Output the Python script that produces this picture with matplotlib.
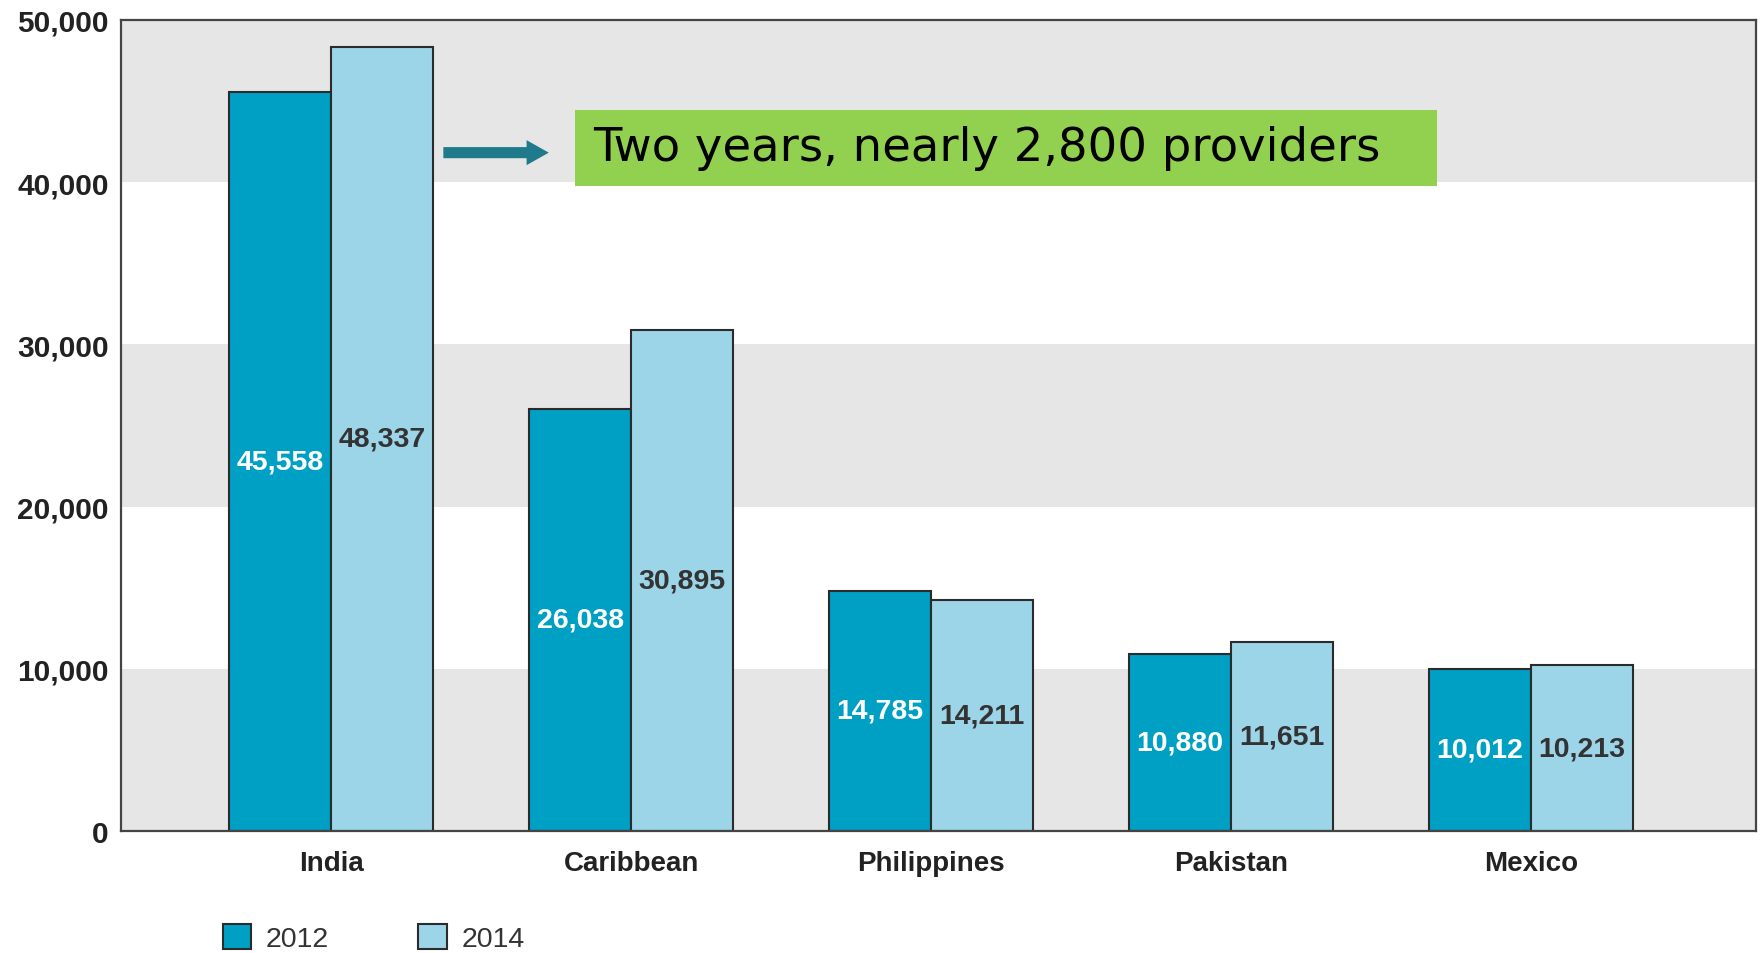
import matplotlib.pyplot as plt
import numpy as np
from matplotlib.patches import Rectangle, Patch

# data
regions = ["India", "Caribbean", "Philippines", "Pakistan", "Mexico"]
values_2012 = [45558, 26038, 14785, 10880, 10012]
values_2014 = [48337, 30895, 14211, 11651, 10213]
y_ticks = [0, 10000, 20000, 30000, 40000, 50000]
note = "Two years, nearly 2,800 providers"

c_2012 = "#009fc4"
c_2014 = "#9dd5e8"
c_band = "#e6e6e6"
c_edge = "#2b2b2b"
narrow = ["Liberation Sans Narrow", "Liberation Sans", "DejaVu Sans"]

fig = plt.figure(figsize=(17.62, 9.54), dpi=100)
ax = fig.add_axes([0.0687, 0.128, 0.928, 0.85])

x = np.arange(len(regions))
w = 0.34

# alternating background bands
for lo in y_ticks[:-1:2]:
    ax.axhspan(lo, lo + 10000, color=c_band, zorder=0, lw=0)

ax.bar(x - w / 2, values_2012, w, color=c_2012, edgecolor=c_edge, lw=1.5, zorder=2)
ax.bar(x + w / 2, values_2014, w, color=c_2014, edgecolor=c_edge, lw=1.5, zorder=2)

for i in range(len(regions)):
    ax.text(x[i] - w / 2, values_2012[i] / 2, f"{values_2012[i]:,}", ha="center", va="center",
            color="white", fontsize=20.5, fontweight="bold", family=narrow, zorder=3)
    ax.text(x[i] + w / 2, values_2014[i] / 2, f"{values_2014[i]:,}", ha="center", va="center",
            color="#333333", fontsize=20.5, fontweight="bold", family=narrow, zorder=3)

ax.set_xlim(-0.70, 4.75)
ax.set_ylim(0, 50000)
ax.set_yticks(y_ticks)
ax.set_yticklabels([f"{t:,}" for t in y_ticks], fontsize=21.5, fontweight="bold",
                   family=narrow, color="#222222")
ax.set_xticks(x)
ax.set_xticklabels(regions, fontsize=20, fontweight="bold", family=narrow, color="#222222")
ax.tick_params(length=0, axis="y", pad=9)
ax.tick_params(length=0, axis="x", pad=14)
for s in ax.spines.values():
    s.set_color("#444444")
    s.set_linewidth(1.6)

# callout
ax.add_patch(Rectangle((0.812, 39736), 2.873, 4716, color="#92d050", zorder=4, lw=0))
ax.text(0.875, 42150, note, fontsize=33.5, family=["DejaVu Sans"],
        va="center", ha="left", color="black", zorder=5)
ax.annotate("", xy=(0.735, 41820), xytext=(0.365, 41820),
            arrowprops=dict(arrowstyle="simple,head_width=0.9,head_length=0.8,tail_width=0.4",
                            mutation_scale=20, color="#1f7a8c", lw=0), zorder=5)

handles = [Patch(facecolor=c_2012, edgecolor=c_edge, lw=1.5),
           Patch(facecolor=c_2014, edgecolor=c_edge, lw=1.5)]
fig.legend(handles, ["2012", "2014"], loc="lower left", bbox_to_anchor=(0.112, -0.026),
           ncol=2, frameon=False, handlelength=1.0, handleheight=1.0,
           columnspacing=3.15, handletextpad=0.5, prop={"family": narrow, "size": 20.5})
for t in fig.legends[0].get_texts():
    t.set_color("#333333")

fig.savefig("out.png", dpi=100)
